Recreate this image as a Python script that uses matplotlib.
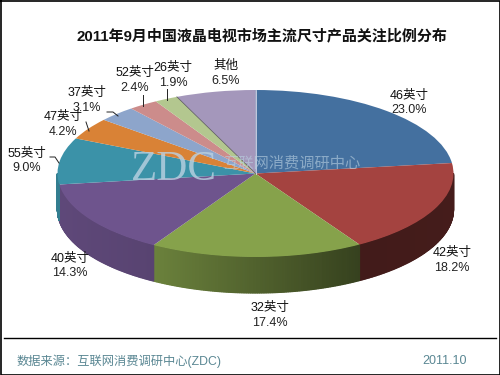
import numpy as np
import matplotlib
matplotlib.use("Agg")
import matplotlib.pyplot as plt
from matplotlib.colors import to_rgb

plt.rcParams['font.family'] = ['Liberation Sans', 'Noto Sans CJK SC', 'DejaVu Sans']

# clockwise from 12 o'clock
names = ['46英寸', '42英寸', '32英寸', '40英寸', '55英寸', '47英寸', '37英寸', '52英寸', '26英寸', '其他']
values = [23.0, 18.2, 17.4, 14.3, 9.0, 4.2, 3.1, 2.4, 1.9, 6.5]
colors = ['#44709F', '#A44340', '#86A24B', '#6E548D', '#3B92A8', '#D98236',
          '#8DA5CB', '#CC8C8B', '#B3C78F', '#A497BB']

# ellipse in pixels
cx, cy, rx, ry, depth = 255.5, 173.5, 198, 83.5, 36

fig = plt.figure(figsize=(5, 3.75), dpi=100, facecolor='white')
ax = fig.add_axes([0, 0, 1, 1])
ax.pie(values, colors=colors, startangle=90, counterclock=False, radius=1,
       wedgeprops={'linewidth': 0}, normalize=True)
ax.set_aspect('auto')
ax.set_xlim((0 - cx) / rx, (500 - cx) / rx)
ax.set_ylim((cy - 375) / ry, cy / ry)
ax.set_zorder(3)
ax.patch.set_alpha(0)

# pixel layer below the pie for the side wall
px = fig.add_axes([0, 0, 1, 1])
px.set_xlim(0, 500)
px.set_ylim(375, 0)
px.axis('off')
px.set_zorder(2)

# pixel layer above the pie for text and frame
over = fig.add_axes([0, 0, 1, 1])
over.set_xlim(0, 500)
over.set_ylim(375, 0)
over.axis('off')
over.patch.set_alpha(0)
over.set_zorder(4)

# side wall: thin strips, darker to the right
edges = np.cumsum([0] + values) / sum(values) * 2 * np.pi
for i, c in enumerate(colors):
    a0, a1 = edges[i], edges[i + 1]
    if a1 < np.pi / 2 or a0 > 3 * np.pi / 2:
        continue
    t = np.linspace(max(a0, np.pi / 2), min(a1, 3 * np.pi / 2), 120)
    base = np.array(to_rgb(c))
    for k in range(len(t) - 1):
        xs = cx + rx * np.sin(t[k:k + 2])
        ys = cy - ry * np.cos(t[k:k + 2])
        f = np.interp(xs.mean(), [57, 153, 360, 453], [0.86, 0.80, 0.40, 0.42])
        px.fill([xs[0], xs[1], xs[1], xs[0]], [ys[0], ys[1], ys[1] + depth, ys[0] + depth],
                facecolor=base * f, edgecolor=base * f, lw=0.9)

title = '2011年9月中国液晶电视市场主流尺寸产品关注比例分布'
over.text(262, 35.5, title, ha='center', va='center', fontsize=10.8, fontweight='bold', color='#111111')

label_xy = [(409, 103), (452, 260.5), (270, 315.5), (70, 266), (27, 161),
            (63, 124.5), (87, 100.5), (135, 80.5), (173, 75.5), (226, 73.5)]
for n, v, (x, y) in zip(names, values, label_xy):
    over.text(x, y - 7.2, n, ha='center', va='center', fontsize=9, color='#111111')
    over.text(x, y + 7.2, '%.1f%%' % v, ha='center', va='center', fontsize=9, color='#222222')

# leader lines
leaders = [([50, 55, 59], [157, 157, 163]), ([86, 89], [122, 131]), ([107, 113, 118], [112, 112, 116]),
           ([143, 143], [95, 106]), ([167, 167], [89, 100])]
for lx, ly in leaders:
    over.plot(lx, ly, color='#222222', lw=0.7)

# dark edge between 26 and the others, light edge at 12 o'clock
a = edges[9]
over.plot([cx + rx * np.sin(a), cx], [cy - ry * np.cos(a), cy], color='#555555', lw=0.5)
over.plot([cx, cx], [cy - ry, cy], color='#D8D8E8', lw=0.6)

# watermark
over.text(174, 170, 'ZDC', ha='center', va='center', fontsize=31, family='Liberation Serif',
          color='#BBD2E2', alpha=0.8)
over.text(292, 163, '互联网消费调研中心', ha='center', va='center', fontsize=11,
          family='Noto Sans CJK SC', color='#BBD2E2', alpha=0.6)

# footer and frame
over.plot([4, 496], [338, 338], color='black', lw=1)
over.text(17, 361.5, '数据来源：互联网消费调研中心(ZDC)', ha='left', va='center', fontsize=8.8, color='#5A8793')
over.text(445, 361.5, '2011.10', ha='center', va='center', fontsize=9, color='#5A8793')
over.plot([0.5, 499.5, 499.5, 0.5, 0.5], [0.5, 0.5, 374.5, 374.5, 0.5], color='black', lw=1.2)

fig.savefig('out.png', dpi=100)
